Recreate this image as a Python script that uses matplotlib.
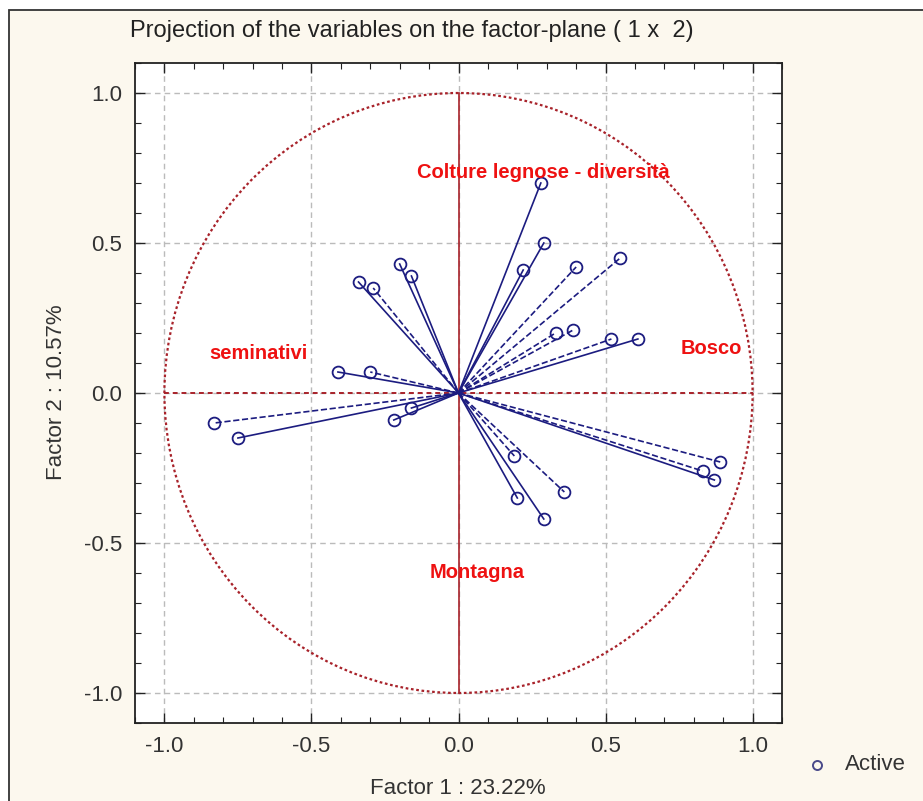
import matplotlib
matplotlib.use("Agg")
import matplotlib.pyplot as plt
from matplotlib.patches import Circle, Rectangle
from matplotlib.lines import Line2D
from matplotlib.ticker import MultipleLocator

# Variable coordinates (Factor 1, Factor 2)
factor1 = [0.28, 0.29, 0.22, 0.40, 0.55, 0.33, 0.39, 0.52, 0.61,
           -0.34, -0.29, -0.20, -0.16, -0.41, -0.30,
           -0.83, -0.75, -0.16, -0.22,
           0.19, 0.20, 0.36, 0.29, 0.89, 0.83, 0.87]
factor2 = [0.70, 0.50, 0.41, 0.42, 0.45, 0.20, 0.21, 0.18, 0.18,
           0.37, 0.35, 0.43, 0.39, 0.07, 0.07,
           -0.10, -0.15, -0.05, -0.09,
           -0.21, -0.35, -0.33, -0.42, -0.23, -0.26, -0.29]
line_styles = ['-', '-', '-', '--', '--', '--', '--', '--', '-',
               '-', '--', '-', '-', '-', '--',
               '--', '-', '-', '-',
               '--', '-', '--', '-', '--', '--', '-']

labels = ["Colture legnose - diversità", "Bosco", "seminativi", "Montagna"]
label_x = [0.288, 0.86, -0.68, 0.065]
label_y = [0.735, 0.15, 0.133, -0.60]

ticks = [-1.0, -0.5, 0.0, 0.5, 1.0]
tick_labels = ["-1.0", "-0.5", "0.0", "0.5", "1.0"]

title = "Projection of the variables on the factor-plane ( 1 x  2)"
xlabel = "Factor 1 : 23.22%"
ylabel = "Factor 2 : 10.57%"

FONT = ['Liberation Sans', 'DejaVu Sans']
plt.rcParams['font.family'] = FONT

fig = plt.figure(figsize=(9.23, 8.01), dpi=100)
fig.patch.set_facecolor('white')
fig.patches.append(Rectangle((9 / 923, -0.02), 1.0, (801 - 10) / 801 + 0.02,
                             transform=fig.transFigure, facecolor='#FCF8EE',
                             edgecolor='#333333', linewidth=1.3, zorder=-10))

ax = fig.add_axes([135 / 923, (801 - 723) / 801, (782 - 135) / 923, (723 - 63) / 801])
ax.set_facecolor('white')
ax.set_xlim(-1.1, 1.1)
ax.set_ylim(-1.1, 1.1)

ax.set_xticks(ticks)
ax.set_xticklabels(tick_labels)
ax.set_yticks(ticks)
ax.set_yticklabels(tick_labels)
ax.xaxis.set_minor_locator(MultipleLocator(0.1))
ax.yaxis.set_minor_locator(MultipleLocator(0.1))
ax.tick_params(which='both', direction='in', top=True, right=True, color='#222222')
ax.tick_params(which='major', length=7, width=1.0, labelsize=16, labelcolor='#333333', pad=9)
ax.tick_params(which='minor', length=4, width=0.8)
for sp in ax.spines.values():
    sp.set_color('#222222')
    sp.set_linewidth(1.3)

ax.grid(True, which='major', color='#BBBBBB', linestyle=(0, (4, 3)), linewidth=1.0)
ax.set_axisbelow(True)

red = '#A8222A'
ax.add_patch(Circle((0, 0), 1.0, fill=False, edgecolor=red, linestyle=(0, (1.2, 1.2)),
                    linewidth=1.6, zorder=2))
ax.plot([0, 0], [-1, 1], color=red, linewidth=1.2, zorder=2)
ax.plot([-1, 1], [0, 0], color=red, linewidth=1.4, linestyle=(0, (2.5, 2)), zorder=2)

navy = '#1C1C80'
for x, y, ls in zip(factor1, factor2, line_styles):
    ax.plot([0, x], [0, y], color=navy, linewidth=1.2, linestyle=ls, zorder=3)
ax.plot(factor1, factor2, linestyle='none', marker='o', markersize=8.5,
        markerfacecolor='none', markeredgecolor=navy, markeredgewidth=1.3, zorder=4)

for t, x, y in zip(labels, label_x, label_y):
    ax.text(x, y, t, color='#EE1111', fontsize=14.5, fontweight='bold',
            ha='center', va='center', family=['Liberation Sans', 'DejaVu Sans'], zorder=5)

fig.text(412 / 923, 1 - 31 / 801, title, ha='center', va='center', fontsize=17, color='#222222')
fig.text(458 / 923, 1 - 789 / 801, xlabel, ha='center', va='center', fontsize=16, color='#333333')
fig.text(57 / 923, 1 - 392 / 801, ylabel, ha='center', va='center', fontsize=16,
         color='#333333', rotation=90)

fig.lines.append(Line2D([817 / 923], [1 - 765 / 801], transform=fig.transFigure,
                        marker='o', markersize=6.5, markerfacecolor='none',
                        markeredgecolor='#4A4A8A', markeredgewidth=1.4, linestyle='none'))
fig.text(845 / 923, 1 - 765 / 801, "Active", ha='left', va='center', fontsize=16, color='#333333')

fig.savefig("out.png", dpi=100, facecolor=fig.get_facecolor())
